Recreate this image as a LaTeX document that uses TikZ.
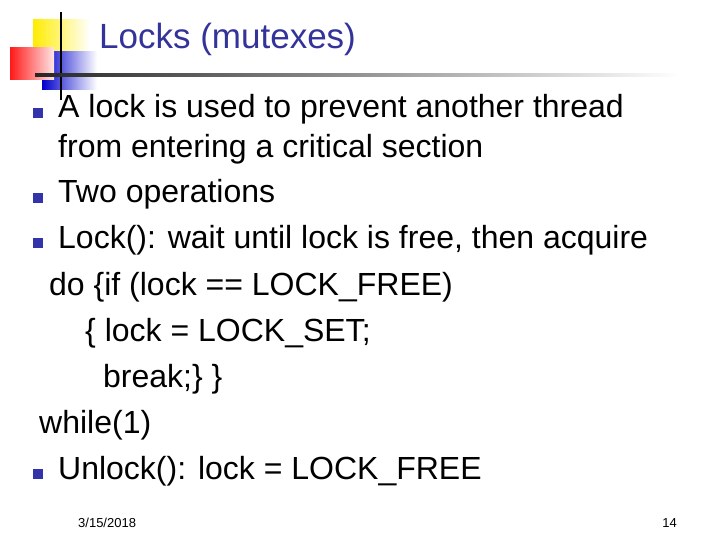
\documentclass[tikz,border=0pt]{standalone}
\usepackage{fontspec}
\setmainfont{Liberation Sans}
\definecolor{ttl}{HTML}{333399}
\definecolor{bulc}{HTML}{3333AA}
\begin{document}
\begin{tikzpicture}[x=1pt,y=-1pt,
  txt/.style={anchor=base west,inner sep=0pt,font=\fontsize{32}{33}\selectfont},
  bul/.style={fill=bulc,minimum size=10pt,inner sep=0pt}]
\useasboundingbox (0,0) rectangle (720,540);
\fill[white] (0,0) rectangle (720,540);
% logo
\shade[left color=yellow!85!orange,right color=white] (33,20) rectangle (90,62);
\shade[left color=blue!80!black,right color=white] (42,52) rectangle (97,90);
\shade[left color=red!90,right color=red!10] (10,48) rectangle (54,80);
\draw[line width=2.5pt] (61,12) -- (61,100);
\shade[left color=black!85,right color=white] (35,73.5) rectangle (680,76.5);
\node[anchor=base west,inner sep=0pt,text=ttl,font=\fontsize{35}{36}\selectfont] (title) at (99,49) {Locks (mutexes)};
% bullets & text
\node[bul] (b1) at (38,113) {};
\node[txt] (t1) at (58,118) {A lock is used to prevent another thread};
\node[txt] (t2) at (58,158) {from entering a critical section};
\node[bul] (b2) at (38,198) {};
\node[txt] (t3) at (58,203) {Two operations};
\node[bul] (b3) at (38,243) {};
\node[txt] (t4) at (58,248) {Lock(): wait until lock is free, then acquire};
\node[txt] (t5) at (49,295) {do \{if (lock == LOCK\_FREE)};
\node[txt] (t6) at (85,341) {\{ lock = LOCK\_SET;};
\node[txt] (t7) at (103,387) {break;\} \}};
\node[txt] (t8) at (39,433) {while(1)};
\node[bul] (b4) at (38,474) {};
\node[txt] (t9) at (58,479) {Unlock(): lock = LOCK\_FREE};
\node[anchor=base west,inner sep=0pt,font=\fontsize{13}{14}\selectfont] (date) at (78,527) {3/15/2018};
\node[anchor=base east,inner sep=0pt,font=\fontsize{13}{14}\selectfont] (num) at (677,527) {14};
\end{tikzpicture}
\end{document}
